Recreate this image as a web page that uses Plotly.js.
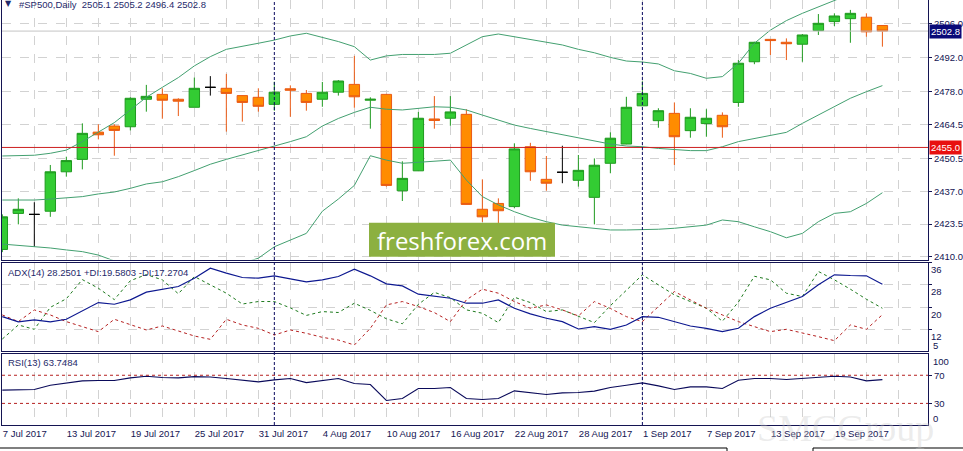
<!DOCTYPE html>
<html><head><meta charset="utf-8">
<script src="https://cdn.plot.ly/plotly-3.0.1.min.js"></script>
<style>html,body{margin:0;padding:0;background:#fff;}#chart{width:963px;height:451px;}</style>
</head><body><div id="chart"></div>
<script>
// ---- data (daily bars, index 0 = 7 Jul 2017) ----
const barIndex = Array.from({length:56},(_,i)=>i);
const openP  = [2413.1,2427.9,2427.5,2428.8,2445.0,2450.1,2461.3,2463.8,2463.5,2474.8,2476.8,2474.8,2471.5,2479.7,2479.3,2476.3,2475.6,2472.7,2479.1,2477.2,2474.8,2477.7,2480.9,2474.4,2476.8,2437.2,2445.4,2466.7,2467.0,2468.6,2429.6,2432.0,2430.7,2455.3,2441.9,2444.8,2441.5,2434.5,2448.5,2456.4,2472.1,2466.0,2469.0,2461.9,2464.8,2468.2,2473.5,2490.2,2499.4,2498.2,2497.4,2503.0,2506.7,2507.9,2508.5,2505.1];
const highP  = [2427.5,2434.1,2432.5,2447.8,2451.2,2464.9,2464.5,2464.5,2475.6,2480.7,2479.3,2475.2,2483.7,2484.3,2485.2,2476.4,2479.3,2482.0,2480.5,2478.6,2481.9,2482.7,2492.6,2475.6,2477.0,2449.3,2469.6,2476.1,2476.1,2470.7,2441.9,2434.1,2456.7,2456.9,2451.5,2455.7,2451.9,2450.5,2461.2,2475.8,2482.2,2471.1,2473.5,2471.1,2470.7,2469.4,2490.9,2498.4,2499.5,2499.8,2501.6,2509.8,2510.1,2511.5,2510.1,2505.2];
const lowP   = [2412.0,2423.4,2414.2,2426.5,2443.0,2446.0,2458.3,2451.6,2462.0,2469.7,2466.8,2467.9,2471.5,2476.3,2461.5,2465.6,2469.7,2470.1,2467.6,2470.1,2471.7,2476.3,2471.3,2462.7,2438.9,2433.0,2445.3,2462.7,2463.9,2431.5,2424.4,2423.5,2430.0,2441.3,2437.2,2440.3,2438.9,2423.4,2444.4,2456.3,2472.0,2463.1,2447.8,2459.0,2459.4,2459.0,2471.7,2489.2,2493.0,2490.9,2490.2,2501.2,2504.9,2498.0,2500.5,2496.4];
const closeP = [2426.5,2429.6,2427.5,2445.0,2449.6,2460.8,2460.2,2462.0,2475.2,2476.0,2474.4,2474.0,2479.3,2479.7,2477.2,2473.5,2471.9,2477.7,2478.5,2473.5,2477.7,2482.3,2475.8,2474.8,2439.4,2442.3,2467.0,2466.1,2469.6,2431.6,2426.5,2429.0,2454.4,2445.0,2440.3,2444.8,2445.6,2447.7,2458.8,2471.5,2477.2,2470.1,2459.4,2467.4,2467.0,2463.5,2489.6,2498.2,2498.9,2497.6,2501.2,2506.0,2509.0,2510.1,2502.5,2502.8];
const dojiBars = [2,13,35];

const bbUpper = [2451.5,2451.5,2451.8,2452.6,2453.9,2457.4,2461.2,2465.2,2470.4,2475.6,2479.7,2483.7,2488.5,2492.3,2495.3,2496.4,2497.8,2499.1,2500.8,2501.9,2500.2,2498.5,2496.4,2490.9,2492.6,2493.2,2493.2,2493.2,2493.7,2497.1,2500.5,2501.6,2500.5,2499.4,2498.5,2497.1,2495.3,2493.9,2492.0,2490.5,2490.1,2489.3,2486.5,2485.4,2483.4,2484.1,2489.6,2497.8,2503.2,2507.1,2510.1,2512.8,2515.6,2518.0,2520.0,2521.7];
const bbMiddle = [2433.4,2433.4,2433.4,2433.8,2434.4,2434.8,2435.9,2436.7,2438.2,2440.0,2440.9,2443.0,2445.5,2448.1,2450.1,2451.9,2453.7,2455.3,2457.4,2459.4,2463.8,2466.9,2469.4,2471.5,2470.7,2470.4,2471.1,2471.7,2471.5,2470.4,2468.3,2466.3,2464.2,2462.8,2461.5,2460.1,2458.7,2457.4,2456.4,2455.6,2455.3,2454.6,2454.2,2453.7,2453.7,2455.3,2457.4,2458.7,2460.1,2461.2,2464.9,2468.3,2471.7,2475.2,2477.9,2480.4];
const bbLower = [2415.3,2414.8,2414.2,2413.7,2412.9,2412.2,2410.8,2408.2,2406.0,2404.4,2402.1,2402.3,2402.5,2403.9,2404.9,2407.4,2409.5,2414.2,2416.8,2419.7,2428.8,2433.8,2439.4,2451.6,2449.8,2448.5,2448.9,2449.4,2449.8,2441.6,2434.8,2431.4,2428.6,2426.3,2424.5,2423.1,2422.4,2421.8,2421.1,2421.1,2421.1,2421.4,2421.8,2422.4,2423.1,2425.2,2424.5,2422.4,2420.4,2417.9,2419.7,2424.5,2427.9,2428.6,2432.0,2436.4];

const adx    = [16.57,14.65,15.37,14.65,15.61,18.62,21.63,21.02,22.59,25.36,26.44,27.40,30.41,34.02,32.22,30.65,30.41,31.25,30.17,29.09,29.81,31.01,33.66,31.25,28.37,27.64,24.64,23.79,23.19,21.39,21.39,22.59,19.58,17.53,15.97,14.77,12.12,12.96,12.0,13.56,16.57,16.33,14.77,13.20,12.36,11.16,12.36,16.57,19.58,21.63,23.79,28.0,31.62,31.37,31.25,28.25];
const plusDI = [8.5,13.56,12.0,19.9,23.0,29.9,26.8,22.7,29.5,31.7,29.8,24.8,31.0,28.1,25.0,21.1,22.0,22.0,19.7,17.0,18.38,18.05,21.39,18.8,15.8,14.0,21.0,25.3,23.4,19.0,17.78,14.41,23.55,21.63,18.38,18.98,16.57,14.41,20.5,26.2,31.62,28.0,24.39,21.99,19.58,14.9,21.8,31.1,29.81,25.0,23.79,32.82,29.81,26.44,22.83,19.58];
const minusDI= [17.17,14.77,18.98,17.17,14.77,12.96,11.16,15.61,13.56,11.76,13.20,11.52,9.59,8.39,15.61,13.56,12.36,9.95,11.76,10.56,9.11,8.15,6.35,12.36,20.78,21.99,20.18,18.02,14.77,22.59,26.44,25.0,21.99,19.58,20.78,18.98,16.81,21.99,19.5,16.57,14.77,20.18,25.6,22.59,19.58,17.17,14.77,12.96,11.16,12.0,10.8,9.35,7.91,13.56,12.0,17.27];
const rsi    = [48.8,49.7,49.7,55.9,59.2,62.0,62.5,62.5,66.2,68.6,66.7,66.2,68.1,67.6,65.3,62.9,60.6,63.4,65.3,59.6,62.9,65.3,58.2,56.8,34.2,37.0,51.1,51.1,52.6,37.0,35.6,37.0,47.8,45.0,42.7,45.0,45.5,47.4,52.6,55.9,59.2,54.9,49.7,53.5,53.5,51.1,62.9,65.3,65.3,63.9,65.3,66.2,68.6,67.6,62.0,63.75];

const tickIdx   = [0,4,8,12,16,20,24,28,32,36,40,44,48,52];
const tickDates = ['7 Jul 2017','13 Jul 2017','19 Jul 2017','25 Jul 2017','31 Jul 2017','4 Aug 2017','10 Aug 2017','16 Aug 2017','22 Aug 2017','28 Aug 2017','1 Sep 2017','7 Sep 2017','13 Sep 2017','19 Sep 2017'];
const priceTicks = [2506.0,2492.0,2478.0,2464.5,2450.5,2437.0,2423.5,2410.0];
const adxTicks = [36,28,20,12];
const rsiLevels = [70,30];
const monthStarts = [17,40];   // 1 Aug, 1 Sep
const levelLine = 2455.0;
const lastPrice = 2502.8;

// ---- build ----
const isDoji = i => dojiBars.includes(i);
const pick = (arr, f) => barIndex.filter(f).map(i => arr[i]);
const normal = i => !isDoji(i);

const gridX = [], gridText = [];
for (let i = 0; i <= 57; i += 2) { gridX.push(i); const k = tickIdx.indexOf(i); gridText.push(k >= 0 ? tickDates[k] : ''); }

const navy = '#141452';
const bandColor = '#43a070';

const traces = [
  {type:'scatter', mode:'lines', x:barIndex, y:bbUpper, line:{color:bandColor,width:1}, xaxis:'x', yaxis:'y', hoverinfo:'skip'},
  {type:'scatter', mode:'lines', x:barIndex, y:bbMiddle, line:{color:bandColor,width:1}, xaxis:'x', yaxis:'y', hoverinfo:'skip'},
  {type:'scatter', mode:'lines', x:barIndex, y:bbLower, line:{color:bandColor,width:1}, xaxis:'x', yaxis:'y', hoverinfo:'skip'},
  {type:'candlestick', x:pick(barIndex,normal), open:pick(openP,normal), high:pick(highP,normal), low:pick(lowP,normal), close:pick(closeP,normal),
   increasing:{line:{color:'#1f9a1f',width:1}, fillcolor:'#33cc33'},
   decreasing:{line:{color:'#ea5a14',width:1}, fillcolor:'#ff8c00'},
   whiskerwidth:0, xaxis:'x', yaxis:'y', hoverinfo:'skip'},
  {type:'candlestick', x:pick(barIndex,isDoji), open:pick(openP,isDoji), high:pick(highP,isDoji), low:pick(lowP,isDoji), close:pick(closeP,isDoji),
   increasing:{line:{color:'#000000',width:1}, fillcolor:'#000000'},
   decreasing:{line:{color:'#000000',width:1}, fillcolor:'#000000'},
   whiskerwidth:0, xaxis:'x', yaxis:'y', hoverinfo:'skip'},
  {type:'scatter', mode:'lines', x:barIndex, y:plusDI, line:{color:'#1e7a1e',width:1,dash:'3px,3px'}, xaxis:'x', yaxis:'y2', hoverinfo:'skip'},
  {type:'scatter', mode:'lines', x:barIndex, y:minusDI, line:{color:'#b52020',width:1,dash:'3px,3px'}, xaxis:'x', yaxis:'y2', hoverinfo:'skip'},
  {type:'scatter', mode:'lines', x:barIndex, y:adx, line:{color:'#0d1890',width:1.2}, xaxis:'x', yaxis:'y2', hoverinfo:'skip'},
  {type:'scatter', mode:'lines', x:barIndex, y:rsi, line:{color:'#0a0a5a',width:1.1}, xaxis:'x', yaxis:'y3', hoverinfo:'skip'}
];

const px2x = p => (p - 2) / 926;
const px2y = p => (425 - p) / 425;
const gridCommon = {showgrid:true, gridcolor:'#d2d2d2', griddash:'dash', gridwidth:1, zeroline:false, showline:true, mirror:true, linecolor:navy, linewidth:1, fixedrange:true};

const shapes = [
  {type:'line', xref:'x domain', yref:'y', x0:0, x1:1, y0:lastPrice, y1:lastPrice, line:{color:'#c4c4c4',width:1}},
  {type:'line', xref:'x domain', yref:'y', x0:0, x1:1, y0:levelLine, y1:levelLine, line:{color:'#cc1f1f',width:1}},
  ...monthStarts.map(m => ({type:'line', xref:'x', yref:'paper', x0:m, x1:m, y0:0, y1:1, line:{color:'#0a0a60',width:1,dash:'3px,2px'}})),
  {type:'rect', xref:'paper', yref:'paper', x0:px2x(369), x1:px2x(555), y0:px2y(256.7), y1:px2y(222.7), fillcolor:'#8cb040', line:{width:0}, layer:'above'},
  {type:'line', xref:'paper', yref:'paper', x0:px2x(0), x1:px2x(727), y0:px2y(448), y1:px2y(448), line:{color:'#000',width:1.2}},
  {type:'line', xref:'paper', yref:'paper', x0:px2x(727), x1:px2x(727), y0:px2y(448), y1:px2y(452), line:{color:'#000',width:1}},
  {type:'line', xref:'paper', yref:'paper', x0:px2x(813), x1:px2x(963), y0:px2y(448), y1:px2y(448), line:{color:'#000',width:1.2}},
  {type:'line', xref:'paper', yref:'paper', x0:px2x(813), x1:px2x(813), y0:px2y(448), y1:px2y(452), line:{color:'#000',width:1}}
];

const font = {family:'Liberation Sans, Arial, sans-serif', size:9.5, color:navy};
const annotations = [
  {xref:'paper', yref:'paper', x:px2x(845), y:px2y(428), text:'SMCGroup', showarrow:false, xanchor:'center', yanchor:'middle',
   font:{family:'Liberation Serif, serif', size:38, color:'rgba(200,200,200,0.35)'}},
  {xref:'paper', yref:'paper', x:px2x(3), y:px2y(4), text:'▼', showarrow:false, xanchor:'left', yanchor:'middle', font:{family:'DejaVu Sans', size:8, color:'#1f2a6b'}},
  {xref:'paper', yref:'paper', x:px2x(17), y:px2y(4.5), text:'#SP500,Daily  2505.1 2505.2 2496.4 2502.8', showarrow:false, xanchor:'left', yanchor:'middle', font:{family:font.family, size:9.5, color:'#1f2a6b'}},
  {xref:'paper', yref:'paper', x:px2x(6), y:px2y(272), text:'ADX(14) 28.2501 +DI:19.5803 -DI:17.2704', showarrow:false, xanchor:'left', yanchor:'middle', font:{family:font.family, size:9.5, color:'#1f2a6b'}},
  {xref:'paper', yref:'paper', x:px2x(6), y:px2y(362), text:'RSI(13) 63.7484', showarrow:false, xanchor:'left', yanchor:'middle', font:{family:font.family, size:9.5, color:'#1f2a6b'}},
  {xref:'paper', yref:'paper', x:px2x(462), y:px2y(240), text:'freshforex.com', showarrow:false, xanchor:'center', yanchor:'middle', font:{family:'Open Sans, sans-serif', size:24, color:'#ffffff'}},
  {xref:'paper', yref:'y', x:px2x(929), y:lastPrice, text:lastPrice.toFixed(1), showarrow:false, xanchor:'left', yanchor:'middle', bgcolor:'#0a0a78', borderpad:1, font:{family:font.family, size:9.5, color:'#ffffff'}},
  {xref:'paper', yref:'y', x:px2x(929), y:levelLine, text:levelLine.toFixed(1), showarrow:false, xanchor:'left', yanchor:'middle', bgcolor:'#e81010', borderpad:1, font:{family:font.family, size:9.5, color:'#ffffff'}},
  {xref:'paper', yref:'paper', x:px2x(931), y:px2y(345.5), text:'5', showarrow:false, xanchor:'left', yanchor:'middle', font:font},
  {xref:'paper', yref:'paper', x:px2x(931), y:px2y(361), text:'100', showarrow:false, xanchor:'left', yanchor:'middle', font:font},
  {xref:'paper', yref:'paper', x:px2x(931), y:px2y(418), text:'0', showarrow:false, xanchor:'left', yanchor:'middle', font:font}
];
rsiLevels.forEach(v => shapes.push({type:'line', xref:'x domain', yref:'y3', x0:0, x1:1, y0:v, y1:v, line:{color:'#b52020',width:1,dash:'3px,3px'}}));

const layout = {
  width:963, height:451,
  margin:{l:2, r:35, t:0, b:26, pad:0},
  paper_bgcolor:'#ffffff', plot_bgcolor:'#ffffff',
  showlegend:false, font:font,
  boxgap:0.35, boxgroupgap:0,
  hovermode:false, dragmode:false,
  xaxis:Object.assign({}, gridCommon, {anchor:'y3', range:[-0.02,57.85], tickmode:'array', tickvals:gridX, ticktext:gridText,
     ticklabelposition:'outside right', ticks:'', mirror:'all', rangeslider:{visible:false}, tickfont:font}),
  yaxis:Object.assign({}, gridCommon, {domain:[px2y(259.5),1], side:'right', anchor:'x', range:[2408.97,2515.57], tickmode:'array', tickvals:priceTicks,
     tickformat:'.1f', ticks:'outside', ticklen:3, tickcolor:navy, tickfont:font}),
  yaxis2:Object.assign({}, gridCommon, {domain:[px2y(350.5),px2y(262.5)], side:'right', anchor:'x', range:[4.37,36.05], tickmode:'array', tickvals:adxTicks,
     ticklabelposition:'outside bottom', ticks:'outside', ticklen:3, tickcolor:navy, tickfont:font}),
  yaxis3:Object.assign({}, gridCommon, {domain:[0,px2y(354)], showgrid:false, side:'right', anchor:'x', range:[-0.7,100.2], tickmode:'array', tickvals:rsiLevels,
     ticks:'outside', ticklen:3, tickcolor:navy, tickfont:font}),
  shapes:shapes, annotations:annotations
};

Plotly.newPlot('chart', traces, layout, {staticPlot:true, displayModeBar:false});
</script></body></html>
